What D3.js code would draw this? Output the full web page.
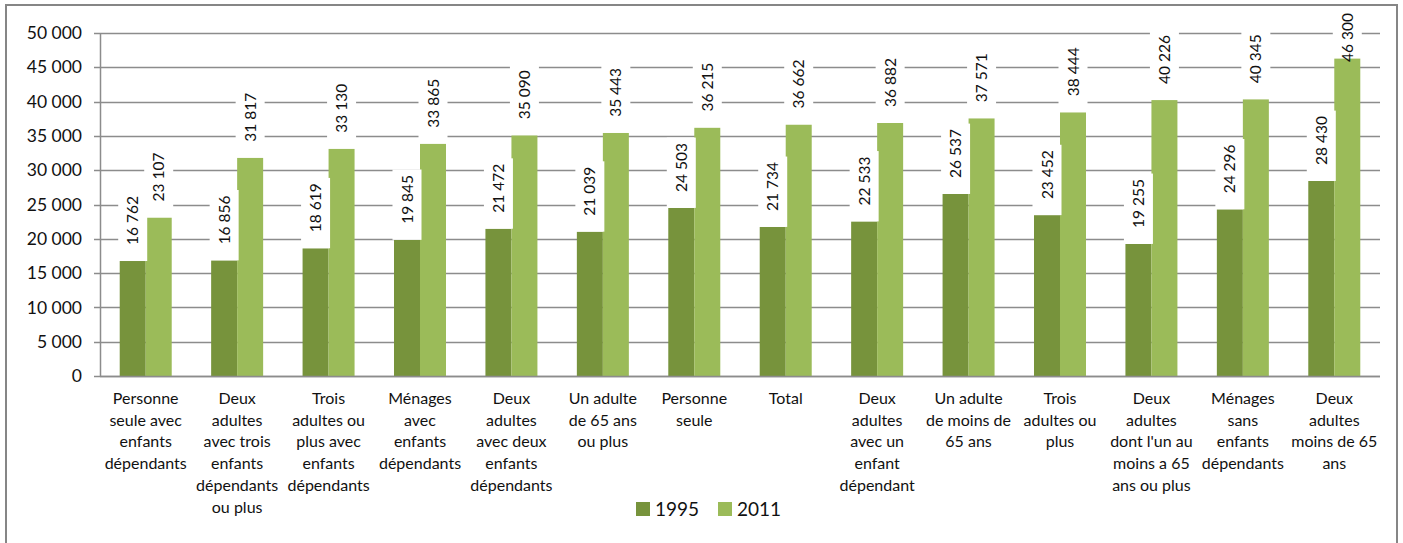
<!DOCTYPE html>
<html>
<head>
<meta charset="utf-8">
<title>Revenus 1995 / 2011</title>
<script src="https://cdnjs.cloudflare.com/ajax/libs/d3/7.8.5/d3.min.js"></script>
<style>
  body { margin: 0; background: #fff; }
  svg { font-family: Lato, "Open Sans", sans-serif; }
</style>
</head>
<body>
<script>
// categories (line breaks as in the original chart)
var categories = [
  "Personne\nseule avec\nenfants\ndépendants",
  "Deux\nadultes\navec trois\nenfants\ndépendants\nou plus",
  "Trois\nadultes ou\nplus avec\nenfants\ndépendants",
  "Ménages\navec\nenfants\ndépendants",
  "Deux\nadultes\navec deux\nenfants\ndépendants",
  "Un adulte\nde 65 ans\nou plus",
  "Personne\nseule",
  "Total",
  "Deux\nadultes\navec un\nenfant\ndépendant",
  "Un adulte\nde moins de\n65 ans",
  "Trois\nadultes ou\nplus",
  "Deux\nadultes\ndont l'un au\nmoins a 65\nans ou plus",
  "Ménages\nsans\nenfants\ndépendants",
  "Deux\nadultes\nmoins de 65\nans"
];
var series = ["1995", "2011"];
var values1995 = [16762, 16856, 18619, 19845, 21472, 21039, 24503, 21734, 22533, 26537, 23452, 19255, 24296, 28430];
var values2011 = [23107, 31817, 33130, 33865, 35090, 35443, 36215, 36662, 36882, 37571, 38444, 40226, 40345, 46300];
var yTicks = [0, 5000, 10000, 15000, 20000, 25000, 30000, 35000, 40000, 45000, 50000];
var colors = ["#77933c", "#9bbb59"];

var W = 1403, H = 543;
var mLeft = 100, mRight = 1380, mTop = 33, mBottom = 376;

var fmt = function(v) { return d3.format(",")(v).replace(/,/g, " "); };

var svg = d3.select("body").append("svg")
    .attr("width", W)
    .attr("height", H);

svg.append("rect")
    .attr("x", 6).attr("y", 5)
    .attr("width", 1391).attr("height", 545)
    .attr("fill", "#fff")
    .attr("stroke", "#868686")
    .attr("stroke-width", 2);

var x = d3.scaleBand().domain(d3.range(categories.length)).range([mLeft, mRight]);
var y = d3.scaleLinear().domain([0, 50000]).range([mBottom, mTop]);

// bar width ~26px in a ~91px band
var bw = 26;
var pad = (x.bandwidth() - 2 * bw) / 2;

// gridlines
svg.append("g").selectAll("line")
    .data(yTicks)
    .join("line")
    .attr("x1", mLeft - 6).attr("x2", mRight)
    .attr("y1", d => Math.round(y(d)) + 0.5).attr("y2", d => Math.round(y(d)) + 0.5)
    .attr("stroke", "#8c8c8c")
    .attr("stroke-width", 1.5);

// y axis labels
svg.append("g").selectAll("text")
    .data(yTicks)
    .join("text")
    .attr("x", 82)
    .attr("y", d => y(d))
    .attr("dy", "0.35em")
    .attr("text-anchor", "end")
    .attr("font-size", 17.5)
    .attr("fill", "#111")
    .text(fmt);

svg.append("line")
    .attr("x1", mLeft + 0.5).attr("x2", mLeft + 0.5)
    .attr("y1", mTop).attr("y2", mBottom)
    .attr("stroke", "#8c8c8c").attr("stroke-width", 1.5);

var data = [];
categories.forEach(function(c, i) {
  data.push({ i: i, s: 0, v: values1995[i] });
  data.push({ i: i, s: 1, v: values2011[i] });
});

var bx = d => x(d.i) + pad + d.s * bw;

svg.append("g").selectAll("rect")
    .data(data)
    .join("rect")
    .attr("x", bx)
    .attr("y", d => y(d.v))
    .attr("width", bw)
    .attr("height", d => mBottom - y(d.v))
    .attr("fill", d => colors[d.s]);

svg.append("line")
    .attr("x1", mLeft).attr("x2", mRight)
    .attr("y1", mBottom + 0.5).attr("y2", mBottom + 0.5)
    .attr("stroke", "#8c8c8c").attr("stroke-width", 1.5);

// data labels: rotated text on white boxes
var fs = 15.5;
var labelBase = d => Math.max(y(d.v) - 16, 62);
var lab = svg.append("g").selectAll("g")
    .data(data)
    .join("g")
    .attr("transform", d => "translate(" + (bx(d) + bw / 2) + "," + labelBase(d) + ")");

lab.append("rect")
    .attr("x", -14.5)
    .attr("y", d => -(fmt(d.v).length * fs * 0.52) - 6)
    .attr("width", 29)
    .attr("height", d => fmt(d.v).length * fs * 0.52 + 6 + Math.min(16, y(d.v) - labelBase(d)))
    .attr("fill", "#fff");

lab.append("text")
    .attr("transform", "rotate(-90)")
    .attr("dy", "0.36em")
    .attr("font-size", fs)
    .attr("fill", "#111")
    .text(d => fmt(d.v));

// category labels
var cat = svg.append("g").selectAll("text")
    .data(categories)
    .join("text")
    .attr("x", (d, i) => x(i) + x.bandwidth() / 2)
    .attr("y", 404)
    .attr("text-anchor", "middle")
    .attr("font-size", 16)
    .attr("fill", "#111");

cat.selectAll("tspan")
    .data(d => d.split("\n"))
    .join("tspan")
    .attr("x", function() { return d3.select(this.parentNode).attr("x"); })
    .attr("dy", (d, j) => j === 0 ? 0 : 21.7)
    .text(d => d);

// legend
var leg = svg.append("g").selectAll("g")
    .data(series)
    .join("g")
    .attr("transform", (d, i) => "translate(" + (636 + i * 82) + ",502)");

leg.append("rect")
    .attr("width", 14).attr("height", 14)
    .attr("fill", (d, i) => colors[i]);

leg.append("text")
    .attr("x", 19)
    .attr("y", 14)
    .attr("font-size", 19)
    .attr("fill", "#111")
    .text(d => d);
</script>
</body>
</html>
